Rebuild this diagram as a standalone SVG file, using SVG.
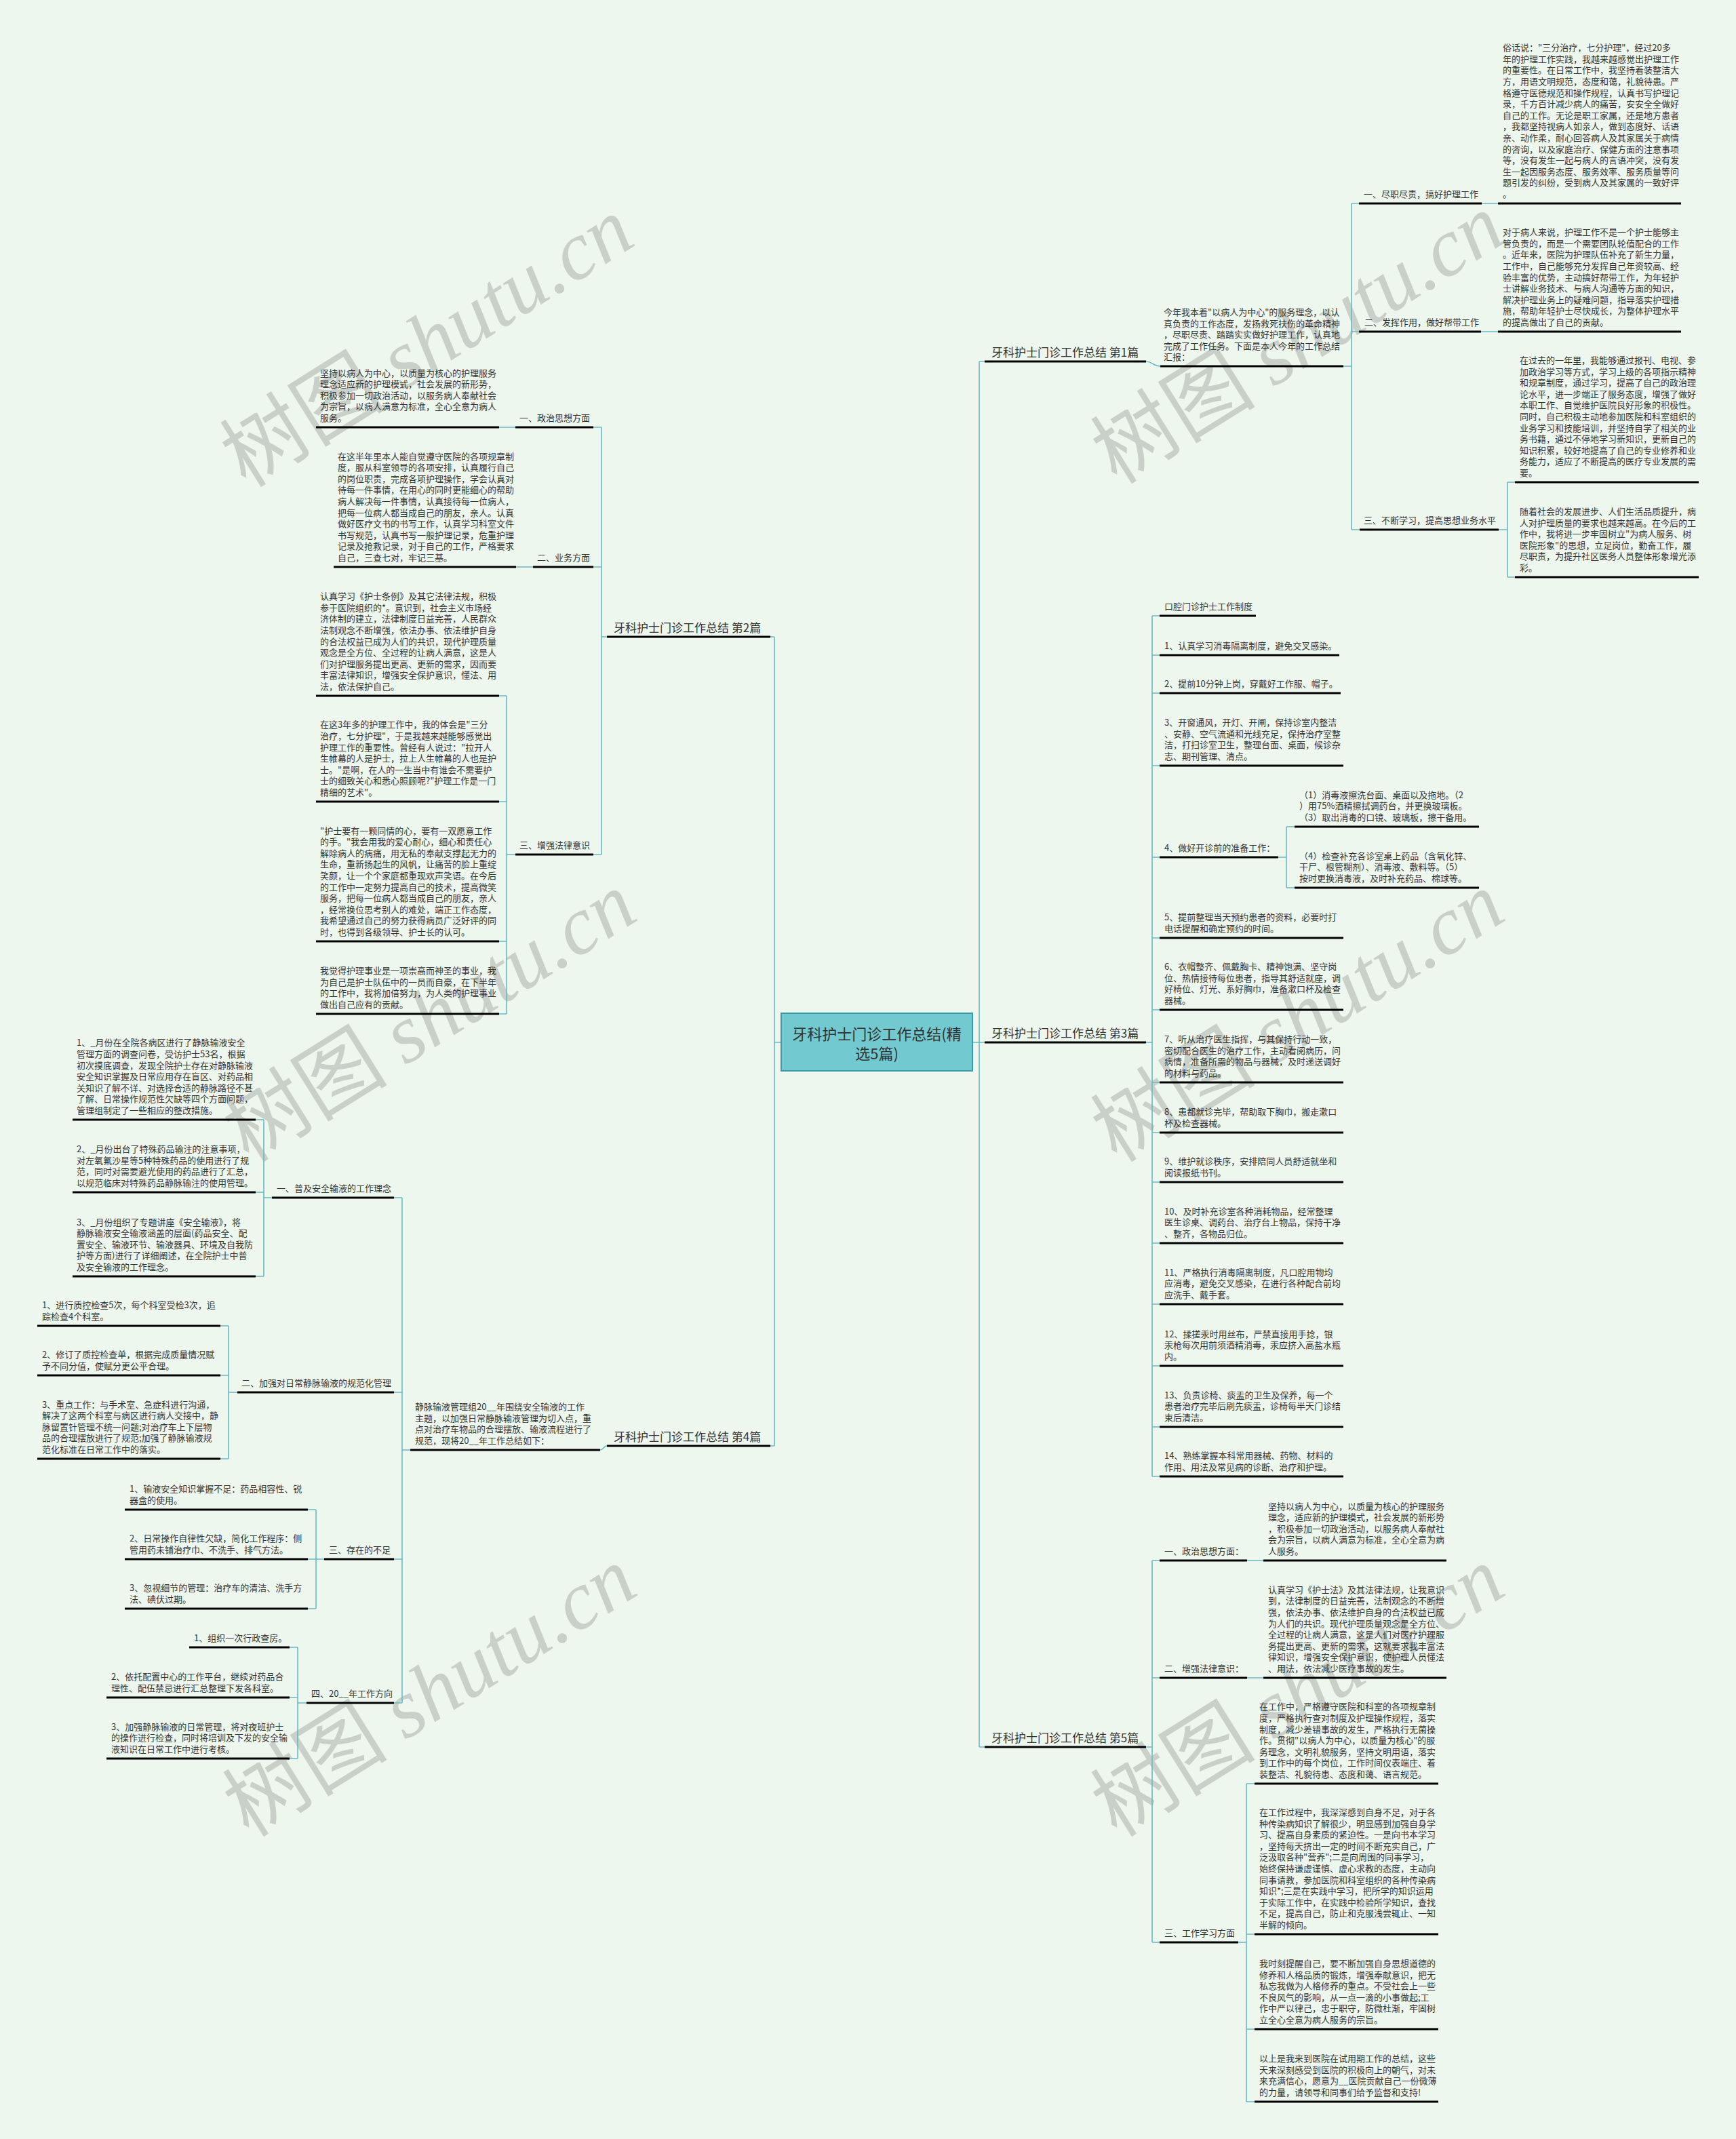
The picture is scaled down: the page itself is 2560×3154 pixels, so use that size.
<svg xmlns="http://www.w3.org/2000/svg" width="2560" height="3154" viewBox="0 0 2560 3154">
<style>
.t{font-family:"Noto Sans CJK SC","Noto Sans",sans-serif;font-size:13px;fill:#333}
.b{font-family:"Noto Sans CJK SC","Noto Sans",sans-serif;font-size:17px;fill:#333}
.ul{stroke:#000;stroke-width:3}
.c{stroke:#6ab8c3;stroke-width:1.6;fill:none}
.wm{font-family:"Noto Sans CJK SC","Liberation Serif",serif;font-size:122px;fill:#c9d0c9}
.wm2{font-family:"Liberation Serif",serif;font-style:italic}
</style>
<rect width="2560" height="3154" fill="#eef7ee"/>
<g id="watermarks">
<text class="wm" text-anchor="middle" transform="translate(652,540) rotate(-32)">树图 <tspan class="wm2">shutu.cn</tspan></text>
<text class="wm" text-anchor="middle" transform="translate(1936,535) rotate(-32)">树图 <tspan class="wm2">shutu.cn</tspan></text>
<text class="wm" text-anchor="middle" transform="translate(656,1535) rotate(-32)">树图 <tspan class="wm2">shutu.cn</tspan></text>
<text class="wm" text-anchor="middle" transform="translate(1936,1535) rotate(-32)">树图 <tspan class="wm2">shutu.cn</tspan></text>
<text class="wm" text-anchor="middle" transform="translate(656,2530) rotate(-32)">树图 <tspan class="wm2">shutu.cn</tspan></text>
<text class="wm" text-anchor="middle" transform="translate(1936,2530) rotate(-32)">树图 <tspan class="wm2">shutu.cn</tspan></text>
</g>
<g id="connectors">
<path class="c" d="M1434,1537 H1444 M1444,533 V2576 M1444,533 H1452 M1444,1537 H1452 M1444,2576 H1452"/>
<path class="c" d="M1152,1537 H1142 M1142,939 V2132 M1142,939 H1136 M1142,2132 H1136"/>
<path class="c" d="M1690,533 C1700,533 1700,540 1711,540"/>
<path class="c" d="M1981,540 H1993 M1993,300 V781 M1993,300 H2004 M1993,489 H2004 M1993,781 H2005"/>
<path class="c" d="M2185,300 H2209 M2184,489 H2209"/>
<path class="c" d="M2210,781 H2223 M2223,711 V851 M2223,711 H2234 M2223,851 H2234"/>
<path class="c" d="M1690,1537 H1699 M1699,908 V2177 M1699,908 H1710 M1699,966 H1710 M1699,1022 H1710 M1699,1129 H1710 M1699,1264 H1710 M1699,1383 H1710 M1699,1489 H1710 M1699,1596 H1710 M1699,1670 H1710 M1699,1743 H1710 M1699,1833 H1710 M1699,1923 H1710 M1699,2014 H1710 M1699,2104 H1710 M1699,2177 H1710"/>
<path class="c" d="M1885,1264 H1897 M1897,1219 V1309 M1897,1219 H1909 M1897,1309 H1909"/>
<path class="c" d="M1690,2576 H1699 M1699,2301 V2864 M1699,2301 H1710 M1699,2474 H1710 M1699,2864 H1710"/>
<path class="c" d="M1839,2301 H1863 M1839,2474 H1863"/>
<path class="c" d="M1826,2864 H1838 M1838,2630 V3099 M1838,2630 H1850 M1838,2852 H1850 M1838,2992 H1850 M1838,3099 H1850"/>
<path class="c" d="M895,939 H887 M887,630 V1260 M887,630 H875 M887,836 H875 M887,1260 H875"/>
<path class="c" d="M760,630 H736 M786,836 H761"/>
<path class="c" d="M760,1260 H747 M747,1026 V1495 M747,1026 H736 M747,1182 H736 M747,1388 H736 M747,1495 H736"/>
<path class="c" d="M895,2132 C890,2132 890,2138 885,2138"/>
<path class="c" d="M605,2138 H593 M593,1766 V2511 M593,1766 H581 M593,2053 H581 M593,2299 H581 M593,2511 H581"/>
<path class="c" d="M401,1766 H389 M389,1651 V1882 M389,1651 H377 M389,1758 H377 M389,1882 H377"/>
<path class="c" d="M350,2053 H337 M337,1955 V2151 M337,1955 H325 M337,2028 H325 M337,2151 H325"/>
<path class="c" d="M478,2299 H466 M466,2226 V2372 M466,2226 H454 M466,2299 H454 M466,2372 H454"/>
<path class="c" d="M452,2511 H439 M439,2429 V2593 M439,2429 H427 M439,2503 H427 M439,2593 H427"/>
</g>
<g id="center">
<rect x="1152" y="1494" width="282" height="85" fill="#72c9cf" stroke="#3d9aa6" stroke-width="2"/>
<text x="1293" y="1533" text-anchor="middle" style="font-family:'Noto Sans CJK SC',sans-serif;font-size:22px;fill:#333">牙科护士门诊工作总结(精</text>
<text x="1293" y="1562" text-anchor="middle" style="font-family:'Noto Sans CJK SC',sans-serif;font-size:22px;fill:#333">选5篇)</text>
</g>
<g id="b1"><text class="b" x="1462" y="526">牙科护士门诊工作总结 第1篇</text><line class="ul" x1="1452" y1="533" x2="1690" y2="533"/></g>
<g id="b2"><text class="b" x="905" y="932">牙科护士门诊工作总结 第2篇</text><line class="ul" x1="895" y1="939" x2="1136" y2="939"/></g>
<g id="b3"><text class="b" x="1462" y="1530">牙科护士门诊工作总结 第3篇</text><line class="ul" x1="1452" y1="1537" x2="1690" y2="1537"/></g>
<g id="b4"><text class="b" x="905" y="2125">牙科护士门诊工作总结 第4篇</text><line class="ul" x1="895" y1="2132" x2="1136" y2="2132"/></g>
<g id="b5"><text class="b" x="1462" y="2569">牙科护士门诊工作总结 第5篇</text><line class="ul" x1="1452" y1="2576" x2="1690" y2="2576"/></g>

<g id="b1-intro"><text class="t" x="1716" y="465"><tspan x="1716" y="465">今年我本着"以病人为中心"的服务理念，以认</tspan><tspan x="1716" y="481.6">真负责的工作态度，发扬救死扶伤的革命精神</tspan><tspan x="1716" y="498.2">，尽职尽责、踏踏实实做好护理工作，认真地</tspan><tspan x="1716" y="514.8">完成了工作任务。下面是本人今年的工作总结</tspan><tspan x="1716" y="531.4">汇报：</tspan></text><line class="ul" x1="1711" y1="540" x2="1981" y2="540"/></g>
<g id="b1-l1"><text class="t" x="2011" y="291">一、尽职尽责，搞好护理工作</text><line class="ul" x1="2004" y1="300" x2="2185" y2="300"/></g>
<g id="b1-p1"><text class="t"><tspan x="2216" y="75.2">俗话说："三分治疗，七分护理"，经过20多</tspan><tspan x="2216" y="91.8">年的护理工作实践，我越来越感觉出护理工作</tspan><tspan x="2216" y="108.4">的重要性。在日常工作中，我坚持着装整洁大</tspan><tspan x="2216" y="125">方，用语文明规范，态度和蔼，礼貌待患。严</tspan><tspan x="2216" y="141.6">格遵守医德规范和操作规程，认真书写护理记</tspan><tspan x="2216" y="158.2">录，千方百计减少病人的痛苦，安安全全做好</tspan><tspan x="2216" y="174.8">自己的工作。无论是职工家属，还是地方患者</tspan><tspan x="2216" y="191.4">，我都坚持视病人如亲人，做到态度好、话语</tspan><tspan x="2216" y="208">亲、动作柔，耐心回答病人及其家属关于病情</tspan><tspan x="2216" y="224.6">的咨询，以及家庭治疗、保健方面的注意事项</tspan><tspan x="2216" y="241.2">等，没有发生一起与病人的言语冲突，没有发</tspan><tspan x="2216" y="257.8">生一起因服务态度、服务效率、服务质量等问</tspan><tspan x="2216" y="274.4">题引发的纠纷，受到病人及其家属的一致好评</tspan><tspan x="2216" y="291">。</tspan></text><line class="ul" x1="2209" y1="300" x2="2479" y2="300"/></g>
<g id="b1-l2"><text class="t" x="2012" y="480">二、发挥作用，做好帮带工作</text><line class="ul" x1="2004" y1="489" x2="2184" y2="489"/></g>
<g id="b1-p2"><text class="t"><tspan x="2216" y="347.2">对于病人来说，护理工作不是一个护士能够主</tspan><tspan x="2216" y="363.8">管负责的，而是一个需要团队轮值配合的工作</tspan><tspan x="2216" y="380.4">。近年来，医院为护理队伍补充了新生力量，</tspan><tspan x="2216" y="397">工作中，自己能够充分发挥自己年资较高、经</tspan><tspan x="2216" y="413.6">验丰富的优势，主动搞好帮带工作，为年轻护</tspan><tspan x="2216" y="430.2">士讲解业务技术、与病人沟通等方面的知识，</tspan><tspan x="2216" y="446.8">解决护理业务上的疑难问题，指导落实护理措</tspan><tspan x="2216" y="463.4">施，帮助年轻护士尽快成长，为整体护理水平</tspan><tspan x="2216" y="480">的提高做出了自己的贡献。</tspan></text><line class="ul" x1="2209" y1="489" x2="2479" y2="489"/></g>
<g id="b1-l3"><text class="t" x="2011" y="772">三、不断学习，提高思想业务水平</text><line class="ul" x1="2005" y1="781" x2="2210" y2="781"/></g>
<g id="b1-p3"><text class="t"><tspan x="2241" y="536">在过去的一年里，我能够通过报刊、电视、参</tspan><tspan x="2241" y="552.6">加政治学习等方式，学习上级的各项指示精神</tspan><tspan x="2241" y="569.2">和规章制度，通过学习，提高了自己的政治理</tspan><tspan x="2241" y="585.8">论水平，进一步端正了服务态度，增强了做好</tspan><tspan x="2241" y="602.4">本职工作、自觉维护医院良好形象的积极性。</tspan><tspan x="2241" y="619">同时，自己积极主动地参加医院和科室组织的</tspan><tspan x="2241" y="635.6">业务学习和技能培训，并坚持自学了相关的业</tspan><tspan x="2241" y="652.2">务书籍，通过不停地学习新知识，更新自己的</tspan><tspan x="2241" y="668.8">知识积累，较好地提高了自己的专业修养和业</tspan><tspan x="2241" y="685.4">务能力，适应了不断提高的医疗专业发展的需</tspan><tspan x="2241" y="702">要。</tspan></text><line class="ul" x1="2234" y1="711" x2="2505" y2="711"/></g>
<g id="b1-p4"><text class="t"><tspan x="2241" y="759">随着社会的发展进步、人们生活品质提升，病</tspan><tspan x="2241" y="775.6">人对护理质量的要求也越来越高。在今后的工</tspan><tspan x="2241" y="792.2">作中，我将进一步牢固树立"为病人服务、树</tspan><tspan x="2241" y="808.8">医院形象"的思想，立足岗位，勤奋工作，履</tspan><tspan x="2241" y="825.4">尽职责，为提升社区医务人员整体形象增光添</tspan><tspan x="2241" y="842">彩。</tspan></text><line class="ul" x1="2234" y1="851" x2="2505" y2="851"/></g>

<g id="b3-head"><text class="t" x="1717" y="899">口腔门诊护士工作制度</text><line class="ul" x1="1710" y1="908" x2="1852" y2="908"/></g>
<g id="b3-i1"><text class="t" x="1717" y="957">1、认真学习消毒隔离制度，避免交叉感染。</text><line class="ul" x1="1710" y1="966" x2="1975" y2="966"/></g>
<g id="b3-i2"><text class="t" x="1717" y="1013">2、提前10分钟上岗，穿戴好工作服、帽子。</text><line class="ul" x1="1710" y1="1022" x2="1977" y2="1022"/></g>
<g id="b3-i3"><text class="t"><tspan x="1717" y="1070.2">3、开窗通风，开灯、开闸，保持诊室内整洁</tspan><tspan x="1717" y="1086.8">、安静、空气流通和光线充足，保持治疗室整</tspan><tspan x="1717" y="1103.4">洁，打扫诊室卫生，整理台面、桌面，候诊杂</tspan><tspan x="1717" y="1120">志、期刊管理、清点。</tspan></text><line class="ul" x1="1710" y1="1129" x2="1981" y2="1129"/></g>
<g id="b3-i4"><text class="t" x="1717" y="1255">4、做好开诊前的准备工作：</text><line class="ul" x1="1710" y1="1264" x2="1885" y2="1264"/></g>
<g id="b3-i4a"><text class="t"><tspan x="1916" y="1176.8">（1）消毒液擦洗台面、桌面以及拖地。（2</tspan><tspan x="1916" y="1193.4">）用75%酒精擦拭调药台，并更换玻璃板。</tspan><tspan x="1916" y="1210">（3）取出消毒的口镜、玻璃板，擦干备用。</tspan></text><line class="ul" x1="1909" y1="1219" x2="2181" y2="1219"/></g>
<g id="b3-i4b"><text class="t"><tspan x="1916" y="1266.8">（4）检查补充各诊室桌上药品（含氧化锌、</tspan><tspan x="1916" y="1283.4">干尸、根管糊剂）、消毒液、敷料等。（5）</tspan><tspan x="1916" y="1300">按时更换消毒液，及时补充药品、棉球等。</tspan></text><line class="ul" x1="1909" y1="1309" x2="2181" y2="1309"/></g>
<g id="b3-i5"><text class="t"><tspan x="1717" y="1357.4">5、提前整理当天预约患者的资料，必要时打</tspan><tspan x="1717" y="1374">电话提醒和确定预约的时间。</tspan></text><line class="ul" x1="1710" y1="1383" x2="1981" y2="1383"/></g>
<g id="b3-i6"><text class="t"><tspan x="1717" y="1430.2">6、衣帽整齐、佩戴胸卡、精神饱满、坚守岗</tspan><tspan x="1717" y="1446.8">位、热情接待每位患者，指导其舒适就座，调</tspan><tspan x="1717" y="1463.4">好椅位、灯光、系好胸巾，准备漱口杯及检查</tspan><tspan x="1717" y="1480">器械。</tspan></text><line class="ul" x1="1710" y1="1489" x2="1981" y2="1489"/></g>
<g id="b3-i7"><text class="t"><tspan x="1717" y="1537.2">7、听从治疗医生指挥，与其保持行动一致，</tspan><tspan x="1717" y="1553.8">密切配合医生的治疗工作，主动看阅病历，问</tspan><tspan x="1717" y="1570.4">病情，准备所需的物品与器械，及时递送调好</tspan><tspan x="1717" y="1587">的材料与药品。</tspan></text><line class="ul" x1="1710" y1="1596" x2="1981" y2="1596"/></g>
<g id="b3-i8"><text class="t"><tspan x="1717" y="1644.4">8、患都就诊完毕，帮助取下胸巾，搬走漱口</tspan><tspan x="1717" y="1661">杯及检查器械。</tspan></text><line class="ul" x1="1710" y1="1670" x2="1981" y2="1670"/></g>
<g id="b3-i9"><text class="t"><tspan x="1717" y="1717.4">9、维护就诊秩序，安排陪同人员舒适就坐和</tspan><tspan x="1717" y="1734">阅读报纸书刊。</tspan></text><line class="ul" x1="1710" y1="1743" x2="1981" y2="1743"/></g>
<g id="b3-i10"><text class="t"><tspan x="1717" y="1790.8">10、及时补充诊室各种消耗物品，经常整理</tspan><tspan x="1717" y="1807.4">医生诊桌、调药台、治疗台上物品，保持干净</tspan><tspan x="1717" y="1824">、整齐，各物品归位。</tspan></text><line class="ul" x1="1710" y1="1833" x2="1981" y2="1833"/></g>
<g id="b3-i11"><text class="t"><tspan x="1717" y="1880.8">11、严格执行消毒隔离制度，凡口腔用物均</tspan><tspan x="1717" y="1897.4">应消毒，避免交叉感染，在进行各种配合前均</tspan><tspan x="1717" y="1914">应洗手、戴手套。</tspan></text><line class="ul" x1="1710" y1="1923" x2="1981" y2="1923"/></g>
<g id="b3-i12"><text class="t"><tspan x="1717" y="1971.8">12、揉搓汞时用丝布，严禁直接用手捻，银</tspan><tspan x="1717" y="1988.4">汞枪每次用前须酒精消毒，汞应挤入高盐水瓶</tspan><tspan x="1717" y="2005">内。</tspan></text><line class="ul" x1="1710" y1="2014" x2="1981" y2="2014"/></g>
<g id="b3-i13"><text class="t"><tspan x="1717" y="2061.8">13、负责诊椅、痰盂的卫生及保养，每一个</tspan><tspan x="1717" y="2078.4">患者治疗完毕后刷先痰盂，诊椅每半天门诊结</tspan><tspan x="1717" y="2095">束后清洁。</tspan></text><line class="ul" x1="1710" y1="2104" x2="1981" y2="2104"/></g>
<g id="b3-i14"><text class="t"><tspan x="1717" y="2151.4">14、熟练掌握本科常用器械、药物、材料的</tspan><tspan x="1717" y="2168">作用、用法及常见病的诊断、治疗和护理。</tspan></text><line class="ul" x1="1710" y1="2177" x2="1981" y2="2177"/></g>

<g id="b5-l1"><text class="t" x="1717" y="2292">一、政治思想方面：</text><line class="ul" x1="1710" y1="2301" x2="1839" y2="2301"/></g>
<g id="b5-p1"><text class="t"><tspan x="1870" y="2225.6">坚持以病人为中心，以质量为核心的护理服务</tspan><tspan x="1870" y="2242.2">理念，适应新的护理模式，社会发展的新形势</tspan><tspan x="1870" y="2258.8">，积极参加一切政治活动，以服务病人奉献社</tspan><tspan x="1870" y="2275.4">会为宗旨，以病人满意为标准，全心全意为病</tspan><tspan x="1870" y="2292">人服务。</tspan></text><line class="ul" x1="1863" y1="2301" x2="2133" y2="2301"/></g>
<g id="b5-l2"><text class="t" x="1717" y="2465">二、增强法律意识：</text><line class="ul" x1="1710" y1="2474" x2="1839" y2="2474"/></g>
<g id="b5-p2"><text class="t"><tspan x="1870" y="2348.8">认真学习《护士法》及其法律法规，让我意识</tspan><tspan x="1870" y="2365.4">到，法律制度的日益完善，法制观念的不断增</tspan><tspan x="1870" y="2382">强，依法办事、依法维护自身的合法权益已成</tspan><tspan x="1870" y="2398.6">为人们的共识。现代护理质量观念是全方位、</tspan><tspan x="1870" y="2415.2">全过程的让病人满意，这是人们对医疗护理服</tspan><tspan x="1870" y="2431.8">务提出更高、更新的需求，这就要求我丰富法</tspan><tspan x="1870" y="2448.4">律知识，增强安全保护意识，使护理人员懂法</tspan><tspan x="1870" y="2465">、用法，依法减少医疗事故的发生。</tspan></text><line class="ul" x1="1863" y1="2474" x2="2133" y2="2474"/></g>
<g id="b5-l3"><text class="t" x="1717" y="2855">三、工作学习方面</text><line class="ul" x1="1710" y1="2864" x2="1826" y2="2864"/></g>
<g id="b5-p3a"><text class="t"><tspan x="1857" y="2521.4">在工作中，严格遵守医院和科室的各项规章制</tspan><tspan x="1857" y="2538">度，严格执行查对制度及护理操作规程，落实</tspan><tspan x="1857" y="2554.6">制度，减少差错事故的发生，严格执行无菌操</tspan><tspan x="1857" y="2571.2">作。贯彻"以病人为中心，以质量为核心"的服</tspan><tspan x="1857" y="2587.8">务理念，文明礼貌服务，坚持文明用语，落实</tspan><tspan x="1857" y="2604.4">到工作中的每个岗位，工作时间仪表端庄、着</tspan><tspan x="1857" y="2621">装整洁、礼貌待患、态度和蔼、语言规范。</tspan></text><line class="ul" x1="1850" y1="2630" x2="2121" y2="2630"/></g>
<g id="b5-p3b"><text class="t"><tspan x="1857" y="2677">在工作过程中，我深深感到自身不足，对于各</tspan><tspan x="1857" y="2693.6">种传染病知识了解很少，明显感到加强自身学</tspan><tspan x="1857" y="2710.2">习、提高自身素质的紧迫性。一是向书本学习</tspan><tspan x="1857" y="2726.8">，坚持每天挤出一定的时间不断充实自己，广</tspan><tspan x="1857" y="2743.4">泛汲取各种"营养";二是向周围的同事学习，</tspan><tspan x="1857" y="2760">始终保持谦虚谨慎、虚心求教的态度，主动向</tspan><tspan x="1857" y="2776.6">同事请教，参加医院和科室组织的各种传染病</tspan><tspan x="1857" y="2793.2">知识*;三是在实践中学习，把所学的知识运用</tspan><tspan x="1857" y="2809.8">于实际工作中，在实践中检验所学知识，查找</tspan><tspan x="1857" y="2826.4">不足，提高自己，防止和克服浅尝辄止、一知</tspan><tspan x="1857" y="2843">半解的倾向。</tspan></text><line class="ul" x1="1850" y1="2852" x2="2121" y2="2852"/></g>
<g id="b5-p3c"><text class="t"><tspan x="1857" y="2900">我时刻提醒自己，要不断加强自身思想道德的</tspan><tspan x="1857" y="2916.6">修养和人格品质的锻炼，增强奉献意识，把无</tspan><tspan x="1857" y="2933.2">私忘我做为人格修养的重点。不受社会上一些</tspan><tspan x="1857" y="2949.8">不良风气的影响，从一点一滴的小事做起;工</tspan><tspan x="1857" y="2966.4">作中严以律己，忠于职守，防微杜渐，牢固树</tspan><tspan x="1857" y="2983">立全心全意为病人服务的宗旨。</tspan></text><line class="ul" x1="1850" y1="2992" x2="2121" y2="2992"/></g>
<g id="b5-p3d"><text class="t"><tspan x="1857" y="3040.2">以上是我来到医院在试用期工作的总结，这些</tspan><tspan x="1857" y="3056.8">天来深刻感受到医院的积极向上的朝气，对未</tspan><tspan x="1857" y="3073.4">来充满信心，愿意为__医院贡献自己一份微薄</tspan><tspan x="1857" y="3090">的力量，请领导和同事们给予监督和支持!</tspan></text><line class="ul" x1="1850" y1="3099" x2="2121" y2="3099"/></g>

<g id="b2-l1"><text class="t" x="766" y="621">一、政治思想方面</text><line class="ul" x1="760" y1="630" x2="875" y2="630"/></g>
<g id="b2-p1"><text class="t"><tspan x="472" y="554.6">坚持以病人为中心，以质量为核心的护理服务</tspan><tspan x="472" y="571.2">理念适应新的护理模式，社会发展的新形势，</tspan><tspan x="472" y="587.8">积极参加一切政治活动，以服务病人奉献社会</tspan><tspan x="472" y="604.4">为宗旨，以病人满意为标准，全心全意为病人</tspan><tspan x="472" y="621">服务。</tspan></text><line class="ul" x1="466" y1="630" x2="736" y2="630"/></g>
<g id="b2-l2"><text class="t" x="792" y="827">二、业务方面</text><line class="ul" x1="786" y1="836" x2="875" y2="836"/></g>
<g id="b2-p2"><text class="t"><tspan x="498" y="677.6">在这半年里本人能自觉遵守医院的各项规章制</tspan><tspan x="498" y="694.2">度，服从科室领导的各项安排，认真履行自己</tspan><tspan x="498" y="710.8">的岗位职责，完成各项护理操作，学会认真对</tspan><tspan x="498" y="727.4">待每一件事情，在用心的同时更能细心的帮助</tspan><tspan x="498" y="744">病人解决每一件事情，认真接待每一位病人，</tspan><tspan x="498" y="760.6">把每一位病人都当成自己的朋友，亲人。认真</tspan><tspan x="498" y="777.2">做好医疗文书的书写工作，认真学习科室文件</tspan><tspan x="498" y="793.8">书写规范，认真书写一般护理记录，危重护理</tspan><tspan x="498" y="810.4">记录及抢救记录，对于自己的工作，严格要求</tspan><tspan x="498" y="827">自己，三查七对，牢记三基。</tspan></text><line class="ul" x1="492" y1="836" x2="761" y2="836"/></g>
<g id="b2-l3"><text class="t" x="766" y="1251">三、增强法律意识</text><line class="ul" x1="760" y1="1260" x2="875" y2="1260"/></g>
<g id="b2-p3a"><text class="t"><tspan x="472" y="884.2">认真学习《护士条例》及其它法律法规，积极</tspan><tspan x="472" y="900.8">参于医院组织的*。意识到，社会主义市场经</tspan><tspan x="472" y="917.4">济体制的建立，法律制度日益完善，人民群众</tspan><tspan x="472" y="934">法制观念不断增强，依法办事、依法维护自身</tspan><tspan x="472" y="950.6">的合法权益已成为人们的共识，现代护理质量</tspan><tspan x="472" y="967.2">观念是全方位、全过程的让病人满意，这是人</tspan><tspan x="472" y="983.8">们对护理服务提出更高、更新的需求，因而要</tspan><tspan x="472" y="1000.4">丰富法律知识，增强安全保护意识，懂法、用</tspan><tspan x="472" y="1017">法，依法保护自己。</tspan></text><line class="ul" x1="466" y1="1026" x2="736" y2="1026"/></g>
<g id="b2-p3b"><text class="t"><tspan x="472" y="1073.4">在这3年多的护理工作中，我的体会是"三分</tspan><tspan x="472" y="1090">治疗，七分护理"，于是我越来越能够感觉出</tspan><tspan x="472" y="1106.6">护理工作的重要性。曾经有人说过："拉开人</tspan><tspan x="472" y="1123.2">生帷幕的人是护士，拉上人生帷幕的人也是护</tspan><tspan x="472" y="1139.8">士。"是啊，在人的一生当中有谁会不需要护</tspan><tspan x="472" y="1156.4">士的细致关心和悉心照顾呢?"护理工作是一门</tspan><tspan x="472" y="1173">精细的艺术"。</tspan></text><line class="ul" x1="466" y1="1182" x2="736" y2="1182"/></g>
<g id="b2-p3c"><text class="t"><tspan x="472" y="1229.6">"护士要有一颗同情的心，要有一双愿意工作</tspan><tspan x="472" y="1246.2">的手。"我会用我的爱心耐心，细心和责任心</tspan><tspan x="472" y="1262.8">解除病人的病痛，用无私的奉献支撑起无力的</tspan><tspan x="472" y="1279.4">生命，重新扬起生的风帆，让痛苦的脸上重绽</tspan><tspan x="472" y="1296">笑颜，让一个个家庭都重现欢声笑语。在今后</tspan><tspan x="472" y="1312.6">的工作中一定努力提高自己的技术，提高微笑</tspan><tspan x="472" y="1329.2">服务，把每一位病人都当成自己的朋友，亲人</tspan><tspan x="472" y="1345.8">，经常换位思考别人的难处，端正工作态度，</tspan><tspan x="472" y="1362.4">我希望通过自己的努力获得病员广泛好评的同</tspan><tspan x="472" y="1379">时，也得到各级领导、护士长的认可。</tspan></text><line class="ul" x1="466" y1="1388" x2="736" y2="1388"/></g>
<g id="b2-p3d"><text class="t"><tspan x="472" y="1436.2">我觉得护理事业是一项崇高而神圣的事业，我</tspan><tspan x="472" y="1452.8">为自己是护士队伍中的一员而自豪，在下半年</tspan><tspan x="472" y="1469.4">的工作中，我将加倍努力，为人类的护理事业</tspan><tspan x="472" y="1486">做出自己应有的贡献。</tspan></text><line class="ul" x1="466" y1="1495" x2="736" y2="1495"/></g>

<g id="b4-intro"><text class="t"><tspan x="612" y="2079.2">静脉输液管理组20__年围绕安全输液的工作</tspan><tspan x="612" y="2095.8">主题，以加强日常静脉输液管理为切入点，重</tspan><tspan x="612" y="2112.4">点对治疗车物品的合理摆放、输液流程进行了</tspan><tspan x="612" y="2129">规范，现将20__年工作总结如下：</tspan></text><line class="ul" x1="605" y1="2138" x2="885" y2="2138"/></g>
<g id="b4-l1"><text class="t" x="408" y="1757">一、普及安全输液的工作理念</text><line class="ul" x1="401" y1="1766" x2="581" y2="1766"/></g>
<g id="b4-a1"><text class="t"><tspan x="113" y="1542.4">1、_月份在全院各病区进行了静脉输液安全</tspan><tspan x="113" y="1559">管理方面的调查问卷，受访护士53名，根据</tspan><tspan x="113" y="1575.6">初次摸底调查，发现全院护士存在对静脉输液</tspan><tspan x="113" y="1592.2">安全知识掌握及日常应用存在盲区、对药品相</tspan><tspan x="113" y="1608.8">关知识了解不详、对选择合适的静脉路径不甚</tspan><tspan x="113" y="1625.4">了解、日常操作规范性欠缺等四个方面问题，</tspan><tspan x="113" y="1642">管理组制定了一些相应的整改措施。</tspan></text><line class="ul" x1="107" y1="1651" x2="377" y2="1651"/></g>
<g id="b4-a2"><text class="t"><tspan x="113" y="1699.2">2、_月份出台了特殊药品输注的注意事项，</tspan><tspan x="113" y="1715.8">对左氧氟沙星等5种特殊药品的使用进行了规</tspan><tspan x="113" y="1732.4">范，同时对需要避光使用的药品进行了汇总，</tspan><tspan x="113" y="1749">以规范临床对特殊药品静脉输注的使用管理。</tspan></text><line class="ul" x1="107" y1="1758" x2="377" y2="1758"/></g>
<g id="b4-a3"><text class="t"><tspan x="113" y="1806.6">3、_月份组织了专题讲座《安全输液》，将</tspan><tspan x="113" y="1823.2">静脉输液安全输液涵盖的层面(药品安全、配</tspan><tspan x="113" y="1839.8">置安全、输液环节、输液器具、环境及自我防</tspan><tspan x="113" y="1856.4">护等方面)进行了详细阐述，在全院护士中普</tspan><tspan x="113" y="1873">及安全输液的工作理念。</tspan></text><line class="ul" x1="107" y1="1882" x2="377" y2="1882"/></g>
<g id="b4-l2"><text class="t" x="356" y="2044">二、加强对日常静脉输液的规范化管理</text><line class="ul" x1="350" y1="2053" x2="581" y2="2053"/></g>
<g id="b4-b1"><text class="t"><tspan x="62" y="1929.4">1、进行质控检查5次，每个科室受检3次，追</tspan><tspan x="62" y="1946">踪检查4个科室。</tspan></text><line class="ul" x1="55" y1="1955" x2="325" y2="1955"/></g>
<g id="b4-b2"><text class="t"><tspan x="62" y="2002.4">2、修订了质控检查单，根据完成质量情况赋</tspan><tspan x="62" y="2019">予不同分值，使赋分更公平合理。</tspan></text><line class="ul" x1="55" y1="2028" x2="325" y2="2028"/></g>
<g id="b4-b3"><text class="t"><tspan x="62" y="2075.6">3、重点工作：与手术室、急症科进行沟通，</tspan><tspan x="62" y="2092.2">解决了这两个科室与病区进行病人交接中，静</tspan><tspan x="62" y="2108.8">脉留置针管理不统一问题;对治疗车上下层物</tspan><tspan x="62" y="2125.4">品的合理摆放进行了规范;加强了静脉输液规</tspan><tspan x="62" y="2142">范化标准在日常工作中的落实。</tspan></text><line class="ul" x1="55" y1="2151" x2="325" y2="2151"/></g>
<g id="b4-l3"><text class="t" x="485" y="2290">三、存在的不足</text><line class="ul" x1="478" y1="2299" x2="581" y2="2299"/></g>
<g id="b4-c1"><text class="t"><tspan x="191" y="2200.4">1、输液安全知识掌握不足：药品相容性、锐</tspan><tspan x="191" y="2217">器盒的使用。</tspan></text><line class="ul" x1="184" y1="2226" x2="454" y2="2226"/></g>
<g id="b4-c2"><text class="t"><tspan x="191" y="2273.4">2、日常操作自律性欠缺，简化工作程序：侧</tspan><tspan x="191" y="2290">管用药未铺治疗巾、不洗手、排气方法。</tspan></text><line class="ul" x1="184" y1="2299" x2="454" y2="2299"/></g>
<g id="b4-c3"><text class="t"><tspan x="191" y="2346.4">3、忽视细节的管理：治疗车的清洁、洗手方</tspan><tspan x="191" y="2363">法、碘伏过期。</tspan></text><line class="ul" x1="184" y1="2372" x2="454" y2="2372"/></g>
<g id="b4-l4"><text class="t" x="459" y="2502">四、20__年工作方向</text><line class="ul" x1="452" y1="2511" x2="581" y2="2511"/></g>
<g id="b4-d1"><text class="t" x="286" y="2420">1、组织一次行政查房。</text><line class="ul" x1="279" y1="2429" x2="427" y2="2429"/></g>
<g id="b4-d2"><text class="t"><tspan x="164" y="2477.4">2、依托配置中心的工作平台，继续对药品合</tspan><tspan x="164" y="2494">理性、配伍禁忌进行汇总整理下发各科室。</tspan></text><line class="ul" x1="157" y1="2503" x2="427" y2="2503"/></g>
<g id="b4-d3"><text class="t"><tspan x="164" y="2550.8">3、加强静脉输液的日常管理，将对夜班护士</tspan><tspan x="164" y="2567.4">的操作进行检查，同时将培训及下发的安全输</tspan><tspan x="164" y="2584">液知识在日常工作中进行考核。</tspan></text><line class="ul" x1="157" y1="2593" x2="427" y2="2593"/></g>
</svg>
